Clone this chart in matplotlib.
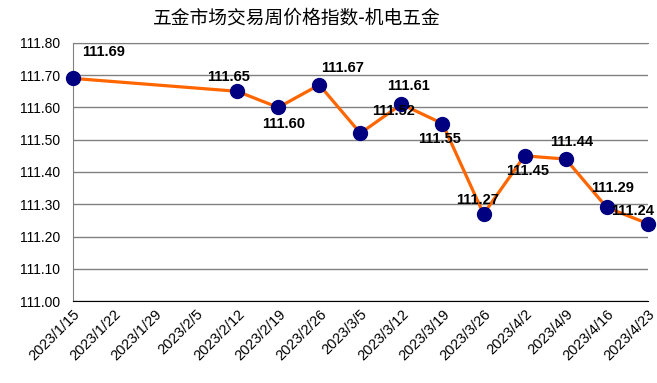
import datetime as dt
import matplotlib
matplotlib.use('Agg')
import matplotlib.pyplot as plt
import matplotlib.dates as mdates

plt.rcParams['font.family'] = ['Liberation Sans', 'Noto Sans CJK SC', 'DejaVu Sans']

title = '五金市场交易周价格指数-机电五金'
dates = ['2023-01-15', '2023-02-12', '2023-02-19', '2023-02-26', '2023-03-05', '2023-03-12',
         '2023-03-19', '2023-03-26', '2023-04-02', '2023-04-09', '2023-04-16', '2023-04-23']
values = [111.69, 111.65, 111.60, 111.67, 111.52, 111.61,
          111.55, 111.27, 111.45, 111.44, 111.29, 111.24]
# label offsets in points (dx, dy)
label_offsets = [(22, 19), (-6, 10), (4, -12), (17, 12), (24, 16), (5, 13),
                 (-2, -11), (-4, 10), (2, -11), (4, 12), (4, 14), (-11, 9)]

x = [dt.datetime.strptime(d, '%Y-%m-%d') for d in dates]
tick_dates = [x[0] + dt.timedelta(days=7 * i) for i in range(15)]
tick_labels = [f'{d.year}/{d.month}/{d.day}' for d in tick_dates]
yticks = [111.0 + 0.1 * i for i in range(9)]

fig = plt.figure(figsize=(6.57, 3.83), dpi=100)
ax = fig.add_axes([0.111, 0.214, 0.875, 0.674])

ax.plot(x, values, color='#FF6600', lw=2.3, marker='o', markersize=10,
        markerfacecolor='#000080', markeredgecolor='#000080', clip_on=False, zorder=3)

for xi, v, (dx, dy) in zip(x, values, label_offsets):
    ax.annotate(f'{v:.2f}', (mdates.date2num(xi), v), xytext=(dx, dy), textcoords='offset points',
                ha='center', va='center', fontsize=10.5, fontweight='bold', zorder=4)

ax.set_xlim(mdates.date2num(tick_dates[0]), mdates.date2num(tick_dates[-1]))
ax.set_ylim(111.0, 111.8)
ax.set_yticks(yticks)
ax.set_yticklabels([f'{t:.2f}' for t in yticks], fontsize=10)
ax.set_xticks([mdates.date2num(d) for d in tick_dates])
ax.set_xticklabels(tick_labels, rotation=45, ha='right', rotation_mode='anchor', fontsize=10.5)
ax.tick_params(axis='both', length=0)
ax.tick_params(axis='y', pad=9)
ax.tick_params(axis='x', pad=4)

ax.yaxis.grid(True, color='#808080', lw=1)
ax.set_axisbelow(True)
ax.spines['right'].set_visible(False)
ax.spines['top'].set_color('#808080')
ax.spines['left'].set_color('#808080')
ax.spines['bottom'].set_color('black')

fig.text(0.452, 0.952, title, ha='center', va='center', fontsize=13.5,
         family=['Noto Sans CJK SC', 'DejaVu Sans'])

fig.savefig('out.png', dpi=100)
